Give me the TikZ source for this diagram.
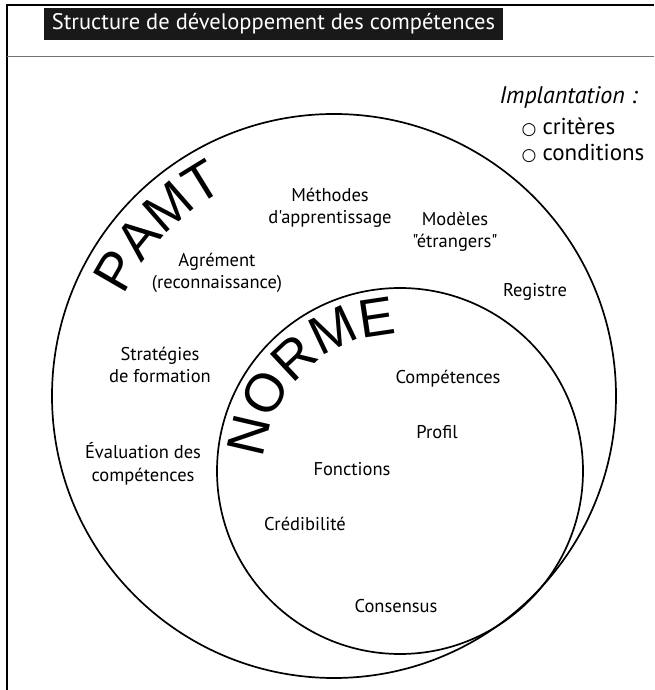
\documentclass[tikz,border=0pt]{standalone}
\usepackage{fontspec}
\setmainfont{PT Sans}
\newfontfamily\etiq{PT Sans}
\newfontfamily\grand{Liberation Sans}
\newfontfamily\symb{DejaVu Sans}
\usetikzlibrary{decorations.text}

\begin{document}
\begin{tikzpicture}[x=1pt,y=1pt]
  \useasboundingbox (0,0) rectangle (654,690);

  % cadre et titre
  \draw[line width=2pt] (654,685) -- (7,685) -- (7,0);
  \draw[line width=0.8pt, black!55] (7,634) -- (654,634);
  \node[fill=black!90, text=white, font=\etiq\fontsize{22.5}{22.5}\selectfont, minimum width=459pt, minimum height=32pt, inner sep=0pt] (titre) at (273.5,666) {Structure de développement des compétences};

  % les deux cercles
  \coordinate (pamt) at (334,294);
  \coordinate (norme) at (400,219);
  \draw[line width=1.7pt] (pamt) circle[radius=282];
  \draw[line width=1.7pt] (norme) circle[radius=183];

  \path[decorate, decoration={text along path, text align=center, text={|\grand\fontsize{54}{54}\selectfont|PAMT}}]
    (pamt) ++(180:233) arc[start angle=180, end angle=92, radius=233];
  \path[decorate, decoration={text along path, text align=center, text={|\grand\fontsize{54}{54}\selectfont|NORME}}]
    (norme) ++(191:137) arc[start angle=191, end angle=75, radius=137];

  % implantation
  \node[anchor=west, font=\etiq\fontsize{24}{24}\selectfont\itshape] (implantation) at (496,593) {Implantation :};
  \node[anchor=west, font=\etiq\fontsize{23}{23}\selectfont] (criteres) at (518,563) {{\symb\fontsize{17}{17}\selectfont ○} critères};
  \node[anchor=west, font=\etiq\fontsize{23}{23}\selectfont] (conditions) at (518,537) {{\symb\fontsize{17}{17}\selectfont ○} conditions};

  % contenu des cercles
  \foreach \x/\y/\nom/\txt in {330/482/methodes/Méthodes\\d'apprentissage, 455/458/modeles/Modèles\\"étrangers",
      217/417/agrement/Agrément\\(reconnaissance), 535/398/registre/Registre, 160/325/strategies/Stratégies\\de formation,
      448/311/competences/Compétences, 437/258/profil/Profil, 143/226/evaluation/Évaluation des\\compétences,
      352/221/fonctions/Fonctions, 305/166/credibilite/Crédibilité, 396/84/consensus/Consensus}{
    \node[align=center, font=\etiq\fontsize{18.5}{22.5}\selectfont] (\nom) at (\x,\y) {\txt};
  }
\end{tikzpicture}
\end{document}
